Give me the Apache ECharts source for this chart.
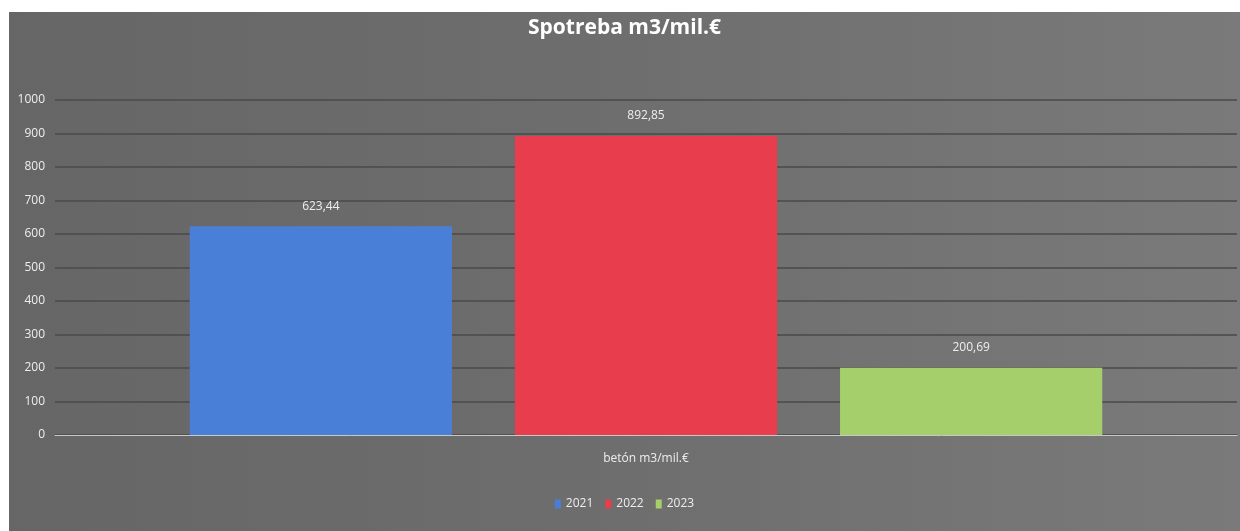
<!DOCTYPE html>
<html>
<head>
<meta charset="utf-8">
<script src="https://cdn.jsdelivr.net/npm/echarts@6/dist/echarts.min.js"></script>
<style>
  html, body { margin: 0; padding: 0; background: #ffffff; width: 1240px; height: 531px; overflow: hidden; }
  #chart { position: absolute; left: 9px; top: 12px; width: 1231px; height: 519px; }
</style>
</head>
<body>
<div id="chart"></div>
<script>
const titleText = 'Spotreba m3/mil.€';
const categories = ['betón m3/mil.€'];
const seriesNames = ['2021', '2022', '2023'];
const values2021 = [623.44];
const values2022 = [892.85];
const values2023 = [200.69];
const seriesColors = ['#4a7fd8', '#e83d4d', '#a5cf6b'];
const yTicks = { min: 0, max: 1000, interval: 100 };

const chart = echarts.init(document.getElementById('chart'));
const dataSets = [values2021, values2022, values2023];
const fmt = v => v.toFixed(2).replace('.', ',');

chart.setOption({
  backgroundColor: new echarts.graphic.LinearGradient(0, 0, 1, 0, [
    { offset: 0, color: '#666666' },
    { offset: 0.5, color: '#6e6e6e' },
    { offset: 1, color: '#7a7a7a' }
  ]),
  animation: false,
  title: {
    text: titleText,
    left: 'center',
    top: 1,
    textStyle: { color: '#ffffff', fontFamily: 'Open Sans', fontWeight: 'bold', fontSize: 21 }
  },
  legend: {
    data: seriesNames,
    bottom: 16,
    left: 'center',
    icon: 'rect',
    itemWidth: 6,
    itemHeight: 9,
    itemGap: 12,
    textStyle: { color: '#eeeeee', fontFamily: 'Open Sans', fontSize: 12 }
  },
  grid: { left: 46, right: 3, top: 88, bottom: 96, containLabel: false },
  xAxis: {
    type: 'category',
    data: categories,
    axisLine: { show: true, lineStyle: { color: '#c8c8c8', width: 1 } },
    axisTick: { show: false },
    axisLabel: { color: '#eeeeee', fontFamily: 'Open Sans', fontSize: 12, margin: 18 }
  },
  yAxis: {
    type: 'value',
    min: yTicks.min,
    max: yTicks.max,
    interval: yTicks.interval,
    axisLine: { show: false },
    axisTick: { show: false },
    axisLabel: { color: '#eeeeee', fontFamily: 'Open Sans', fontSize: 12, margin: 10, formatter: v => String(v) },
    splitLine: { lineStyle: { color: '#4a4a4a', width: 1.5 } }
  },
  series: seriesNames.map((name, i) => ({
    name: name,
    type: 'bar',
    data: dataSets[i],
    barGap: '24%',
    barCategoryGap: '22.8%',
    itemStyle: { color: seriesColors[i] },
    label: {
      show: true,
      position: 'top',
      distance: 14,
      color: '#eeeeee',
      fontFamily: 'Open Sans',
      fontSize: 12,
      formatter: p => fmt(p.value)
    }
  }))
});
</script>
</body>
</html>
